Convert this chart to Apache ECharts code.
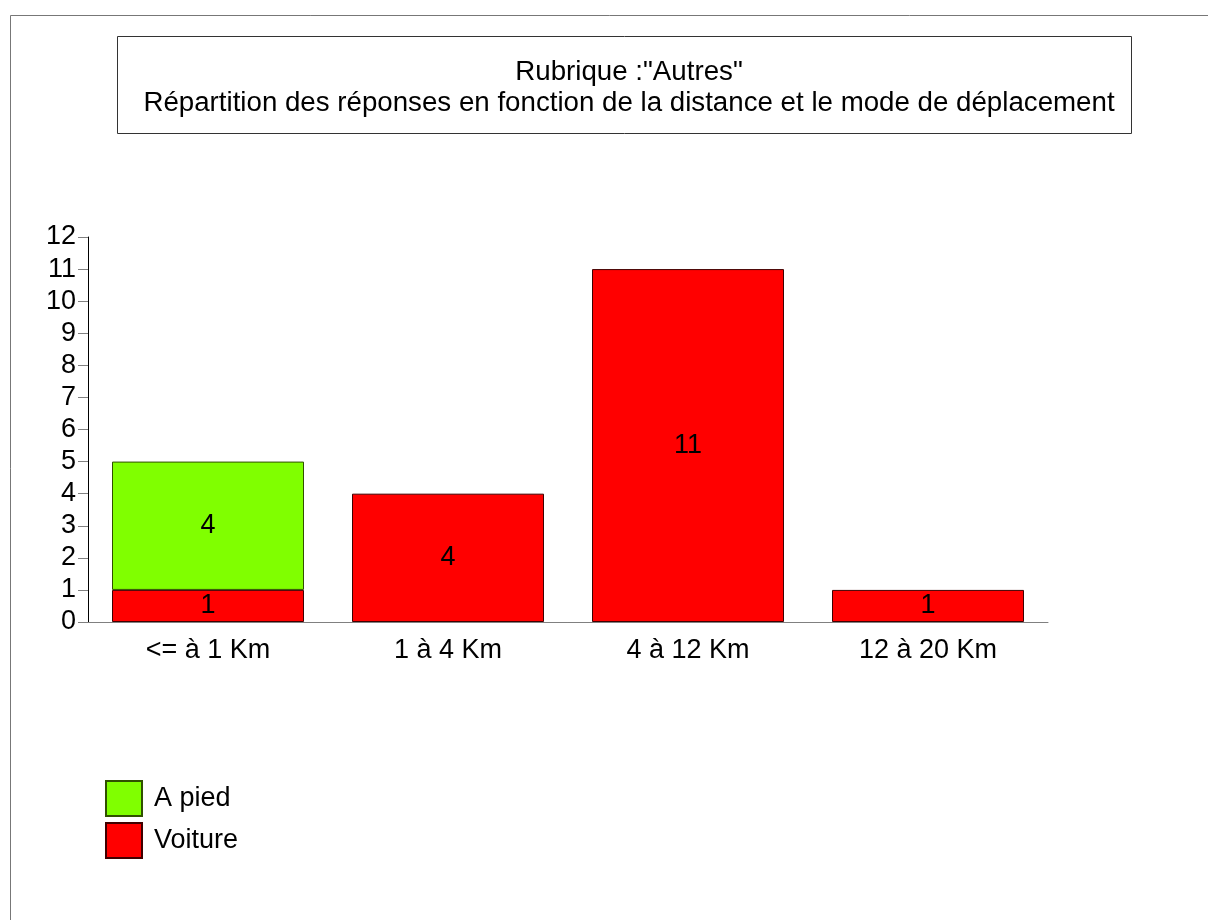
<!DOCTYPE html>
<html>
<head>
<meta charset="utf-8">
<script src="https://cdn.jsdelivr.net/npm/echarts@6/dist/echarts.min.js"></script>
<style>
  html, body { margin: 0; padding: 0; background: #fff; }
  #chart { width: 1208px; height: 920px; }
</style>
</head>
<body>
<div id="chart"></div>
<script>
// données
var categories = ['<= à 1 Km', '1 à 4 Km', '4 à 12 Km', '12 à 20 Km'];
var voiture = [1, 4, 11, 1];
var aPied = [4, null, null, null];
var yTicks = [0, 12, 1]; // min, max, intervalle

var titleLines = ['Rubrique :"Autres"', 'Répartition des réponses en fonction de la distance et le mode de déplacement'];

var font = 'Liberation Sans, Arial, sans-serif';

var myChart = echarts.init(document.getElementById('chart'));

myChart.setOption({
    animation: false,
    textStyle: { fontFamily: font },
    title: {
        text: titleLines.join('\n'),
        left: 624,
        top: 52,
        textAlign: 'center',
        textStyle: { fontSize: 27.7, fontWeight: 'normal', color: '#000', lineHeight: 31, fontFamily: font }
    },
    graphic: [
        // cadre extérieur
        { type: 'rect', silent: true, shape: { x: 10.5, y: 15.5, width: 1300, height: 1000 },
          style: { fill: 'none', stroke: '#777', lineWidth: 1 } },
        // cadre du titre
        { type: 'rect', silent: true, shape: { x: 117.5, y: 36.5, width: 1014, height: 97 },
          style: { fill: 'none', stroke: '#333', lineWidth: 1 } }
    ],
    legend: {
        orient: 'vertical',
        left: 105,
        top: 780,
        padding: 0,
        icon: 'rect',
        itemWidth: 36,
        itemHeight: 35,
        itemGap: 5,
        data: ['A pied', 'Voiture'],
        textStyle: { fontSize: 27, lineHeight: 35, color: '#000', padding: [0, 0, 0, 7] }
    },
    grid: { left: 88, right: 160, top: 237, bottom: 298 },
    xAxis: {
        type: 'category',
        data: categories,
        axisLine: { lineStyle: { color: '#808080', width: 1 } },
        axisTick: { length: 10, lineStyle: { color: '#000' } },
        axisLabel: { fontSize: 27, color: '#000', margin: 15 }
    },
    yAxis: {
        type: 'value',
        min: yTicks[0],
        max: yTicks[1],
        interval: yTicks[2],
        splitLine: { show: false },
        axisLine: { show: true, lineStyle: { color: '#000', width: 1 } },
        axisTick: { show: true, length: 10, lineStyle: { color: '#808080' } },
        axisLabel: { fontSize: 27, color: '#000', margin: 12 }
    },
    series: [
        {
            name: 'Voiture',
            type: 'bar',
            stack: 'total',
            data: voiture,
            barCategoryGap: '20%',
            itemStyle: { color: '#ff0000', borderColor: '#400000', borderWidth: 1 },
            label: { show: true, position: 'inside', fontSize: 27, color: '#000' }
        },
        {
            name: 'A pied',
            type: 'bar',
            stack: 'total',
            data: aPied,
            itemStyle: { color: '#80ff00', borderColor: '#305000', borderWidth: 1 },
            label: { show: true, position: 'inside', fontSize: 27, color: '#000' }
        }
    ]
});
</script>
</body>
</html>
